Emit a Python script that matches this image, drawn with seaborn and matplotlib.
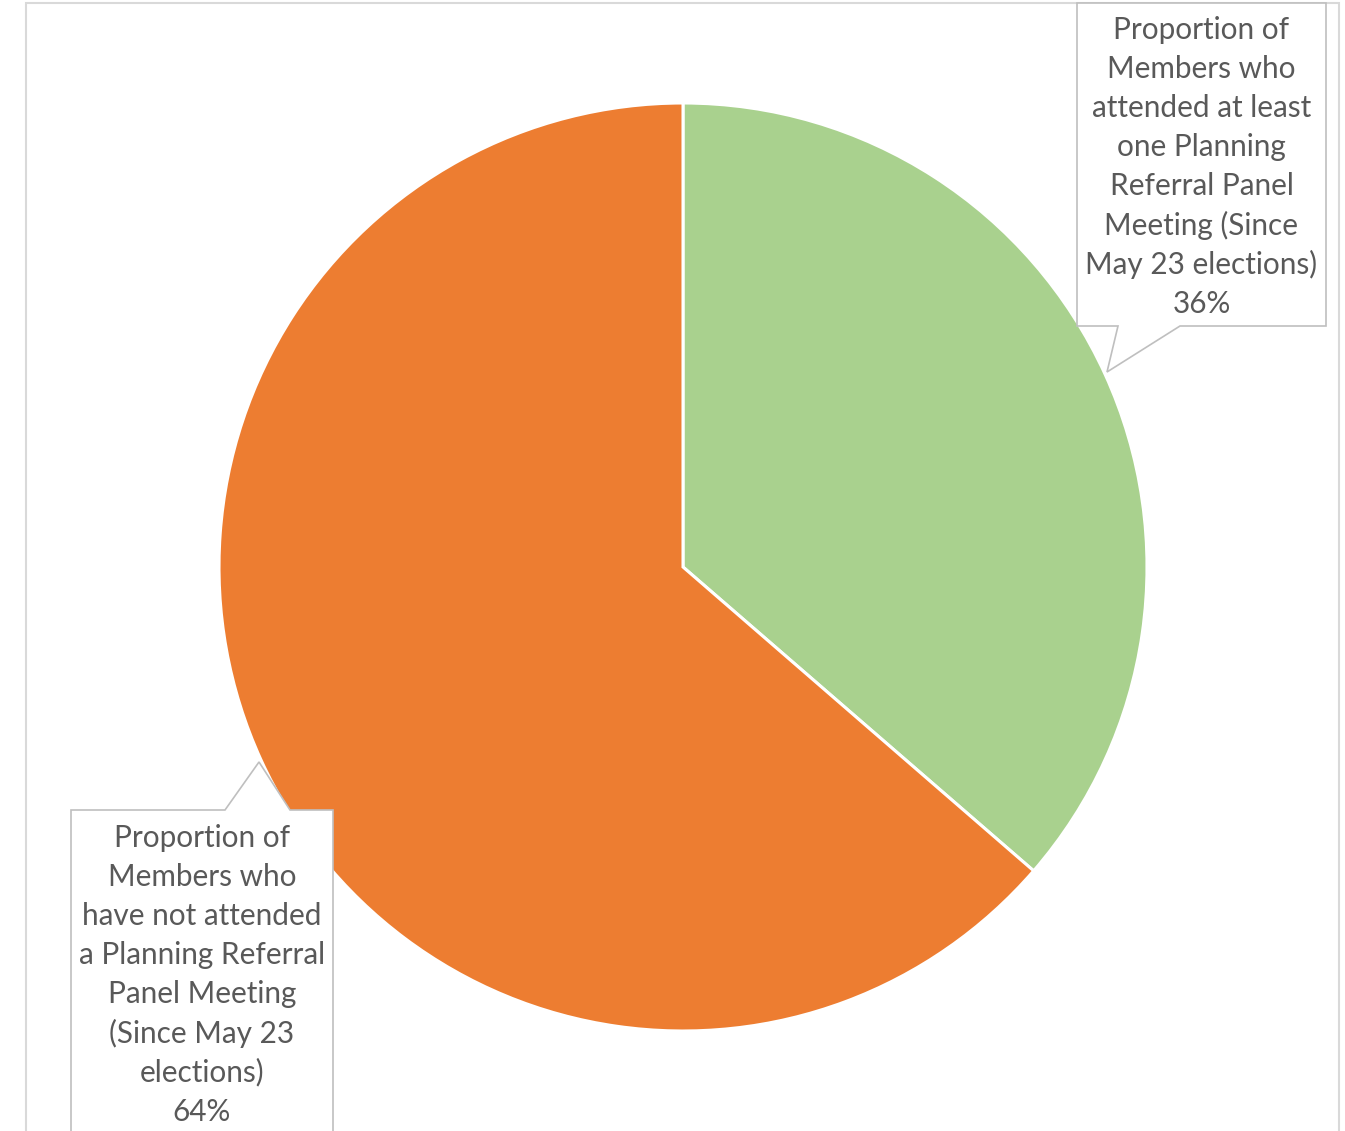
import matplotlib
matplotlib.use("Agg")
import matplotlib.pyplot as plt
import seaborn as sns
from matplotlib.patches import Polygon, Rectangle

sns.set_theme(style="white")
plt.rcParams['font.family'] = ['Lato', 'DejaVu Sans']

# ---- data ----
categories = [
    "Proportion of Members who attended at least one Planning Referral Panel Meeting (Since May 23 elections)",
    "Proportion of Members who have not attended a Planning Referral Panel Meeting (Since May 23 elections)",
]
values = [8, 14]          # member counts (36% / 64%)
colors = ["#A9D18E", "#ED7D31"]
label_lines = [
    ["Proportion of", "Members who", "attended at least", "one Planning",
     "Referral Panel", "Meeting (Since", "May 23 elections)"],
    ["Proportion of", "Members who", "have not attended", "a Planning Referral",
     "Panel Meeting", "(Since May 23", "elections)"],
]

W, H = 1345, 1131
fig = plt.figure(figsize=(W / 100, H / 100), dpi=100)
ax = fig.add_axes([0, 0, 1, 1])

def Y(y):
    return H - y

ax.pie(values, colors=colors, startangle=90, counterclock=False,
       center=(683, Y(567)), radius=464,
       wedgeprops=dict(edgecolor="white", linewidth=2.2))

ax.set_xlim(0, W)
ax.set_ylim(0, H)
ax.set_aspect("equal")
ax.axis("off")

# outer chart frame
ax.add_patch(Rectangle((25.5, Y(1200)), 1338.5 - 25.5, 1200 - 2.5, fill=False,
                       edgecolor="#D9D9D9", linewidth=1.5, zorder=0.5))

# callouts
box_style = dict(facecolor="white", edgecolor="#BFBFBF", linewidth=1.2, zorder=5)
c1 = [(1077, 3), (1326, 3), (1326, 326), (1180, 326), (1107, 372), (1118, 326), (1077, 326)]
c2 = [(71, 810), (225, 810), (259, 762), (290, 810), (333, 810), (333, 1160), (71, 1160)]
ax.add_patch(Polygon([(x, Y(y)) for x, y in c1], closed=True, **box_style))
ax.add_patch(Polygon([(x, Y(y)) for x, y in c2], closed=True, **box_style))

total = sum(values)
text_pos = [(1201.5, 30), (202, 838)]
step = 39.1
for lines, v, (cx, y0) in zip(label_lines, values, text_pos):
    all_lines = lines + [f"{round(100 * v / total)}%"]
    for i, line in enumerate(all_lines):
        ax.text(cx, Y(y0 + i * step), line, ha="center", va="center",
                fontsize=21.4, color="#595959", zorder=6)

fig.savefig("out.png", dpi=100)
